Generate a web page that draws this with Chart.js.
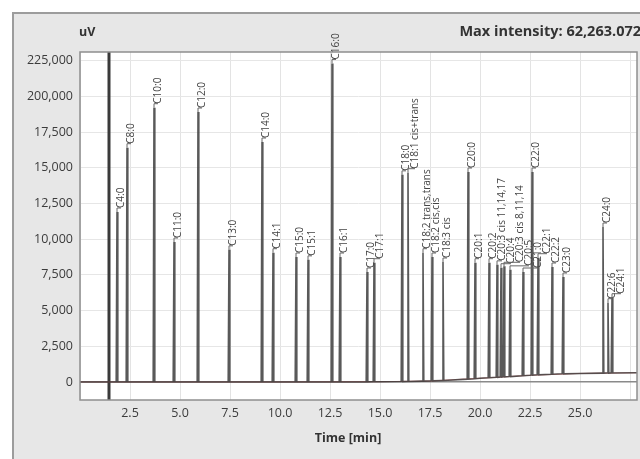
<!DOCTYPE html>
<html>
<head>
<meta charset="utf-8">
<script src="https://cdn.jsdelivr.net/npm/chart.js@4.4.0/dist/chart.umd.min.js"></script>
<style>
  html, body { margin: 0; padding: 0; background: #fff; }
  canvas { display: block; }
</style>
</head>
<body>
<canvas id="canvas" width="640" height="459"></canvas>
<script>
// peaks (time in min, height in uV)
var peakNames = ['C4:0','C8:0','C10:0','C11:0','C12:0','C13:0','C14:0','C14:1','C15:0','C15:1',
  'C16:0','C16:1','C17:0','C17:1','C18:0','C18:1 cis+trans','C18:2 trans,trans','C18:2 cis,cis','C18:3 cis',
  'C20:0','C20:1','C20:2','C20:3 cis 11,14,17','C20:4','C20:3 cis 8,11,14','C20:5','C21:0','C22:0',
  'C22:1','C22:2','C23:0','C24:0','C22:6','C24:1'];
var peakTimes = [1.85, 2.35, 3.7, 4.7, 5.9, 7.45, 9.1, 9.65, 10.8, 11.4,
  12.6, 13.0, 14.35, 14.7, 16.1, 16.4, 17.15, 17.6, 18.15,
  19.4, 19.75, 20.45, 20.85, 21.05, 21.2, 21.5, 22.15, 22.6,
  22.9, 23.6, 24.15, 26.15, 26.4, 26.6];
var peakHeights = [11900, 16400, 19200, 9800, 18900, 9250, 16800, 9050, 8750, 8550,
  22300, 8750, 7700, 8350, 14500, 14650, 9050, 8750, 8400,
  14700, 8350, 8350, 8200, 8000, 8100, 7850, 7700, 14700,
  8700, 8050, 7350, 10850, 5550, 5900];
var peakFoot = [0, 0, 0, 0, 0, 0, 0, 0, 0, 0,
  0, 0, 10, 15, 30, 40, 60, 80, 110,
  200, 230, 300, 330, 350, 360, 380, 440, 480,
  500, 540, 570, 620, 625, 630];

// drifting baseline
var baseTimes = [0, 10, 15, 17.5, 20, 22.5, 25, 27.85];
var baseValues = [0, 0, 20, 70, 260, 470, 600, 650];

var solventTime = 1.45;

var xTicks = [0, 2.5, 5, 7.5, 10, 12.5, 15, 17.5, 20, 22.5, 25, 27.5];
var xLabels = ['', '2.5', '5.0', '7.5', '10.0', '12.5', '15.0', '17.5', '20.0', '22.5', '25.0', ''];
var yTicks = [0, 2500, 5000, 7500, 10000, 12500, 15000, 17500, 20000, 22500];
var yLabels = ['0', '2,500', '5,000', '7,500', '10,000', '12,500', '15,000', '17,500', '200,000', '225,000'];

// build the trace: baseline points plus a narrow spike per peak
var trace = [];
baseTimes.forEach(function(t, i){ trace.push({x: t, y: baseValues[i]}); });
peakTimes.forEach(function(t, i){
  trace.push({x: t - 0.04, y: peakFoot[i]});
  trace.push({x: t, y: peakHeights[i]});
  trace.push({x: t + 0.04, y: peakFoot[i]});
});
trace.sort(function(a, b){ return a.x - b.x; });

var baseline = baseTimes.map(function(t, i){ return {x: t, y: baseValues[i]}; });

var FONT = '"Open Sans", "Noto Sans", sans-serif';

var panelPlugin = {
  id: 'panel',
  beforeDraw: function(chart){
    var c = chart.ctx, a = chart.chartArea;
    c.save();
    c.fillStyle = '#fff';
    c.fillRect(0, 0, chart.width, chart.height);
    c.fillStyle = '#e7e7e7';
    c.fillRect(12, 12, chart.width - 12, chart.height - 12);
    c.strokeStyle = '#9c9c9c';
    c.lineWidth = 2;
    c.strokeRect(13, 13, chart.width, chart.height);
    c.fillStyle = '#fff';
    c.fillRect(a.left, a.top, a.right - a.left, a.bottom - a.top);
    c.restore();
  },
  afterDraw: function(chart){
    var c = chart.ctx, a = chart.chartArea;
    c.save();
    c.strokeStyle = '#8f8f8f';
    c.lineWidth = 1.5;
    c.strokeRect(a.left, a.top, a.right - a.left, a.bottom - a.top);
    c.fillStyle = '#333';
    c.font = 'bold 12.5px ' + FONT;
    c.textBaseline = 'middle';
    c.textAlign = 'left';
    c.fillText('uV', 79, 32);
    c.font = 'bold 14.5px ' + FONT;
    c.textAlign = 'right';
    c.fillText('Max intensity: 62,263.072', 641, 32);
    c.font = 'bold 12.5px ' + FONT;
    c.textAlign = 'center';
    c.fillText('Time [min]', 348, 438);
    c.restore();
  }
};

var peakLabelPlugin = {
  id: 'peakLabels',
  afterDatasetsDraw: function(chart){
    var c = chart.ctx, xs = chart.scales.x, ys = chart.scales.y;
    c.save();
    c.font = '10px ' + FONT;
    c.fillStyle = '#444';
    c.strokeStyle = '#666';
    c.lineWidth = 1;
    c.textBaseline = 'middle';
    c.textAlign = 'left';
    var placed = [];
    peakTimes.forEach(function(t, i){
      var px = xs.getPixelForValue(t);
      var py = ys.getPixelForValue(peakHeights[i]);
      var w = c.measureText(peakNames[i]).width;
      var y0 = py - 4, y1 = y0 - w;
      var lx = px + 4;
      var moved = true;
      while (moved) {
        moved = false;
        placed.forEach(function(p){
          if (Math.abs(lx - p.x) < 9 && y0 > p.y1 && y1 < p.y0) { lx = p.x + 9; moved = true; }
        });
      }
      placed.push({x: lx, y0: y0, y1: y1});
      c.beginPath();
      c.moveTo(px, py);
      c.lineTo(px, y0);
      c.lineTo(lx, y0);
      c.stroke();
      c.save();
      c.translate(lx, y0);
      c.rotate(-Math.PI / 2);
      c.fillText(peakNames[i], 0, 0);
      c.restore();
    });
    c.restore();
  }
};

var ctx = document.getElementById('canvas').getContext('2d');
var myChart = new Chart(ctx, {
  type: 'line',
  data: {
    datasets: [
      {
        label: 'trace',
        data: trace,
        borderColor: 'rgba(60,60,60,0.85)',
        borderWidth: 1.6,
        pointRadius: 0,
        tension: 0
      },
      {
        label: 'baseline',
        data: baseline,
        borderColor: 'rgba(225,70,70,0.6)',
        borderWidth: 1,
        pointRadius: 0
      },
      {
        label: 'solvent',
        data: [{x: solventTime, y: -1300}, {x: solventTime, y: 40000}],
        borderColor: '#3a3a3a',
        borderWidth: 3,
        pointRadius: 0
      }
    ]
  },
  options: {
    responsive: false,
    animation: false,
    layout: { padding: { left: 12, top: 52, right: 3, bottom: 0 } },
    plugins: { legend: { display: false }, tooltip: { enabled: false } },
    scales: {
      x: {
        type: 'linear',
        min: 0,
        max: 27.85,
        afterBuildTicks: function(scale){ scale.ticks = xTicks.map(function(v){ return {value: v}; }); },
        afterFit: function(scale){ scale.height = 59; },
        grid: { color: '#e3e3e3', drawTicks: false },
        border: { display: false },
        ticks: {
          padding: 6,
          maxRotation: 0,
          autoSkip: false,
          color: '#3c3c3c',
          font: { family: FONT, size: 12.5 },
          callback: function(v){ return xLabels[xTicks.indexOf(v)]; }
        }
      },
      y: {
        type: 'linear',
        min: -1260,
        max: 23100,
        afterBuildTicks: function(scale){ scale.ticks = yTicks.map(function(v){ return {value: v}; }); },
        afterFit: function(scale){ scale.width = 68; },
        grid: {
          color: function(c){ return c.tick && c.tick.value === 0 ? '#8a8a8a' : '#e6e6e6'; },
          lineWidth: function(c){ return c.tick && c.tick.value === 0 ? 1.5 : 1; },
          drawTicks: false
        },
        border: { display: false },
        ticks: {
          padding: 7,
          autoSkip: false,
          color: '#3c3c3c',
          font: { family: FONT, size: 12.5 },
          callback: function(v){ return yLabels[yTicks.indexOf(v)]; }
        }
      }
    }
  },
  plugins: [panelPlugin, peakLabelPlugin]
});
</script>
</body>
</html>
